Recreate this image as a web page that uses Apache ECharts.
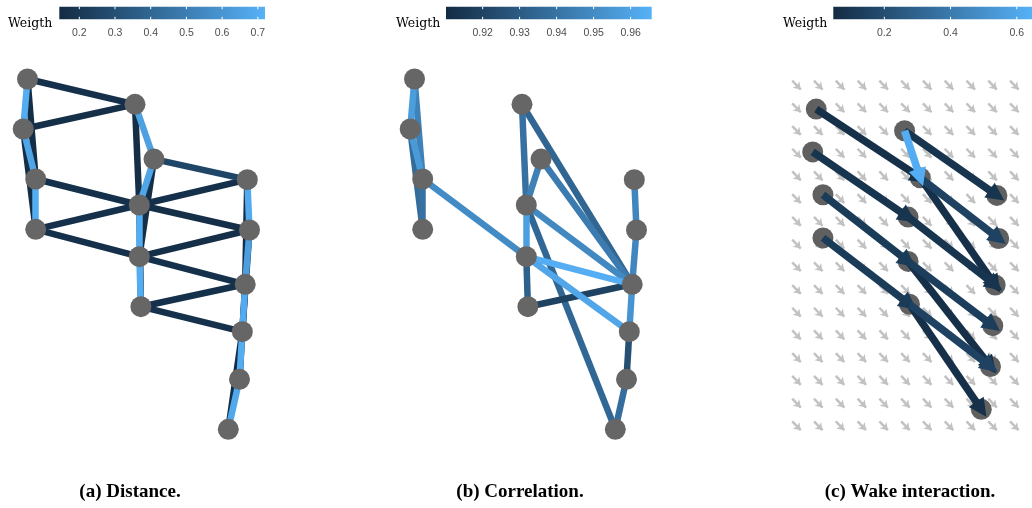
<!DOCTYPE html>
<html>
<head>
<meta charset="utf-8">
<script src="https://cdn.jsdelivr.net/npm/echarts@6/dist/echarts.min.js"></script>
<style>
  html, body { margin: 0; padding: 0; background: #ffffff; }
  #chart { width: 1032px; height: 508px; }
</style>
</head>
<body>
<div id="chart"></div>
<script>
// Turbine layout in metres (A = west column, B = middle, C = east)
const turbineIds = ['A1','A2','A3','A4','B1','B2','B3','B4','B5','C1','C2','C3','C4','C5','C6'];
const turbineX = [75, 32, 157, 157, 1150, 1340, 1193, 1193, 1209, 2273, 2295, 2252, 2223, 2195, 2083];
const turbineY = [3610, 3110, 2610, 2107, 3357, 2809, 2350, 1833, 1333, 2603, 2100, 1557, 1083, 607, 107];

// (a) distance graph
const distFrom   = [0, 1, 0, 1, 2, 3, 3, 4, 5, 6, 6, 6, 7, 7, 8, 8, 9, 10, 11, 12, 5, 0, 1, 2, 4, 5, 6, 7, 9, 10, 11, 12, 13];
const distTo     = [4, 4, 2, 3, 6, 6, 7, 6, 7, 8, 9, 10, 10, 11, 11, 12, 11, 12, 13, 14, 9, 1, 2, 3, 5, 6, 7, 8, 10, 11, 12, 13, 14];
const distWeight = [0.165, 0.16, 0.155, 0.155, 0.165, 0.165, 0.165, 0.155, 0.16, 0.155, 0.165, 0.16, 0.16, 0.165, 0.165, 0.17, 0.155, 0.155, 0.16, 0.155, 0.26,
                    0.70, 0.67, 0.70, 0.65, 0.67, 0.70, 0.70, 0.69, 0.64, 0.69, 0.70, 0.68];
const distRange = [0.144, 0.720];
const distTickLabels = ['0.2', '0.3', '0.4', '0.5', '0.6', '0.7'];

// (b) correlation graph
const corrFrom   = [6, 8, 4, 1, 2, 0, 0, 1, 2, 4, 5, 5, 6, 6, 7, 9, 10, 11, 12, 13, 7, 7];
const corrTo     = [14, 11, 11, 3, 3, 2, 1, 2, 7, 6, 6, 11, 7, 11, 8, 10, 11, 12, 13, 14, 11, 12];
const corrWeight = [0.935, 0.9196, 0.9346, 0.937, 0.939, 0.9462, 0.9574, 0.956, 0.950, 0.939, 0.9457, 0.9435, 0.9585, 0.949, 0.932,
                    0.948, 0.948, 0.9535, 0.925, 0.938, 0.9646, 0.961];
const corrRange = [0.9101, 0.9657];
const corrTickLabels = ['0.92', '0.93', '0.94', '0.95', '0.96'];

// (c) wake interaction graph (directed, upstream -> downstream)
const wakeFrom   = [0, 4, 5, 5, 1, 6, 2, 7, 7, 3, 8, 8, 4];
const wakeTo     = [5, 9, 11, 10, 6, 11, 7, 13, 12, 8, 14, 13, 5];
const wakeWeight = [0.07, 0.09, 0.07, 0.15, 0.09, 0.09, 0.12, 0.07, 0.13, 0.12, 0.07, 0.15, 0.63];
const wakeRange = [0.046, 0.646];
const wakeTickLabels = ['0.2', '0.4', '0.6'];

// Background wind field sample points (metres) and flow direction
const fieldX = [-165, 100, 365, 630, 895, 1160, 1425, 1690, 1955, 2220, 2485];
const fieldY = [3890, 3625, 3360, 3095, 2830, 2565, 2300, 2035, 1770, 1505, 1240, 975, 710, 445, 180, -85];
const windDir = [1, -1];

// Colour scale shared by all three panels
const LOW = [0x13, 0x2b, 0x43];
const HIGH = [0x56, 0xb1, 0xf7];
const toHex = c => '#' + c.map(v => Math.round(v).toString(16).padStart(2, '0')).join('');
function weightColor(w, range) {
  const t = Math.max(0, Math.min(1, (w - range[0]) / (range[1] - range[0])));
  return toHex(LOW.map((l, i) => l + (HIGH[i] - l) * t));
}

const pos = i => [turbineX[i], turbineY[i]];
function edgeData(from, to, weight, range) {
  return from.map((f, k) => ({
    coords: [pos(f), pos(to[k])],
    lineStyle: { color: weightColor(weight[k], range) }
  }));
}
const nodeData = turbineIds.map((id, i) => ({ name: id, value: pos(i) }));

const fieldData = [];
fieldY.forEach(y => fieldX.forEach(x => {
  const h = 52;
  fieldData.push({ coords: [[x - h * windDir[0], y - h * windDir[1]], [x + h * windDir[0], y + h * windDir[1]]] });
}));

function colorbarSeries(idx, range, labels) {
  const ticks = labels.map(Number);
  return {
    type: 'custom', xAxisIndex: idx, yAxisIndex: idx, silent: true,
    data: [[range[0], 0, range[1], 1]],
    renderItem(params, api) {
      const p0 = api.coord([range[0], 1]);
      const p1 = api.coord([range[1], 0]);
      const h = p1[1] - p0[1];
      const children = [{
        type: 'rect',
        shape: { x: p0[0], y: p0[1], width: p1[0] - p0[0], height: h },
        style: { fill: new echarts.graphic.LinearGradient(0, 0, 1, 0, [
          { offset: 0, color: toHex(LOW) }, { offset: 1, color: toHex(HIGH) }]) }
      }];
      ticks.forEach(v => {
        const x = api.coord([v, 0])[0];
        children.push({ type: 'line', shape: { x1: x, y1: p0[1], x2: x, y2: p0[1] + h / 5 }, style: { stroke: '#ffffff', lineWidth: 1 } });
        children.push({ type: 'line', shape: { x1: x, y1: p1[1] - h / 5, x2: x, y2: p1[1] }, style: { stroke: '#ffffff', lineWidth: 1 } });
      });
      return { type: 'group', children };
    }
  };
}

function legendAxis(gridIndex, range, labels) {
  const dec = (labels[0].split('.')[1] || '').length;
  return {
    type: 'value', gridIndex, min: range[0], max: range[1],
    axisLine: { show: false }, axisTick: { show: false }, splitLine: { show: false },
    axisLabel: {
      customValues: labels.map(Number),
      formatter: v => Number(v).toFixed(dec),
      color: '#4d4d4d', fontSize: 10.5, fontFamily: 'Liberation Sans', margin: 8
    }
  };
}
const hiddenAxis = (gridIndex, min, max) => ({ type: 'value', gridIndex, min, max, show: false, splitLine: { show: false } });

const chart = echarts.init(document.getElementById('chart'), null, { renderer: 'canvas' });
chart.setOption({
  backgroundColor: '#ffffff',
  animation: false,
  grid: [
    { left: 20, top: 60, width: 240, height: 380 },
    { left: 407, top: 60, width: 240, height: 380 },
    { left: 785.4, top: 58.5, width: 257.1, height: 385.7 },
    { left: 59.3, top: 6.7, width: 205.7, height: 12.6 },
    { left: 446, top: 6.7, width: 205.7, height: 12.6 },
    { left: 833.3, top: 6.7, width: 198.7, height: 12.6 }
  ],
  xAxis: [
    hiddenAxis(0, 0, 2400),
    hiddenAxis(1, 0, 2400),
    hiddenAxis(2, -300, 2700),
    legendAxis(3, distRange, distTickLabels),
    legendAxis(4, corrRange, corrTickLabels),
    legendAxis(5, wakeRange, wakeTickLabels)
  ],
  yAxis: [
    hiddenAxis(0, 0, 3800),
    hiddenAxis(1, 0, 3800),
    hiddenAxis(2, -300, 4200),
    hiddenAxis(3, 0, 1),
    hiddenAxis(4, 0, 1),
    hiddenAxis(5, 0, 1)
  ],
  graphic: [
    { type: 'text', x: 8, y: 24, style: { text: 'Weigth', font: '12.5px "DejaVu Serif"', fill: '#000', verticalAlign: 'middle' } },
    { type: 'text', x: 396, y: 24, style: { text: 'Weigth', font: '12.5px "DejaVu Serif"', fill: '#000', verticalAlign: 'middle' } },
    { type: 'text', x: 783, y: 24, style: { text: 'Weigth', font: '12.5px "DejaVu Serif"', fill: '#000', verticalAlign: 'middle' } },
    { type: 'text', x: 130, y: 492, style: { text: '(a) Distance.', font: 'bold 19px "Liberation Serif"', fill: '#000', align: 'center', verticalAlign: 'middle' } },
    { type: 'text', x: 520, y: 492, style: { text: '(b) Correlation.', font: 'bold 19px "Liberation Serif"', fill: '#000', align: 'center', verticalAlign: 'middle' } },
    { type: 'text', x: 910, y: 492, style: { text: '(c) Wake interaction.', font: 'bold 19px "Liberation Serif"', fill: '#000', align: 'center', verticalAlign: 'middle' } }
  ],
  series: [
    // (a)
    { type: 'lines', coordinateSystem: 'cartesian2d', xAxisIndex: 0, yAxisIndex: 0, silent: true, z: 2,
      lineStyle: { width: 6.5, opacity: 1 }, data: edgeData(distFrom, distTo, distWeight, distRange) },
    { type: 'scatter', xAxisIndex: 0, yAxisIndex: 0, silent: true, symbolSize: 21, z: 4,
      itemStyle: { color: '#666666', opacity: 1 }, data: nodeData },
    // (b)
    { type: 'lines', coordinateSystem: 'cartesian2d', xAxisIndex: 1, yAxisIndex: 1, silent: true, z: 2,
      lineStyle: { width: 6.5, opacity: 1 }, data: edgeData(corrFrom, corrTo, corrWeight, corrRange) },
    { type: 'scatter', xAxisIndex: 1, yAxisIndex: 1, silent: true, symbolSize: 21, z: 4,
      itemStyle: { color: '#666666', opacity: 1 }, data: nodeData },
    // (c): wind field, turbines, then wake arrows on top
    { type: 'lines', coordinateSystem: 'cartesian2d', xAxisIndex: 2, yAxisIndex: 2, silent: true, z: 1,
      symbol: ['none', 'arrow'], symbolSize: 7,
      lineStyle: { width: 2.5, color: '#c2c2c2', opacity: 1 }, data: fieldData },
    { type: 'scatter', xAxisIndex: 2, yAxisIndex: 2, silent: true, symbolSize: 21, z: 2,
      itemStyle: { color: '#606060', opacity: 1 }, data: nodeData },
    { type: 'lines', coordinateSystem: 'cartesian2d', xAxisIndex: 2, yAxisIndex: 2, silent: true, z: 5,
      symbol: ['none', 'triangle'], symbolSize: 18,
      lineStyle: { width: 7.5, opacity: 1 }, data: edgeData(wakeFrom, wakeTo, wakeWeight, wakeRange) },
    // colour bars
    colorbarSeries(3, distRange, distTickLabels),
    colorbarSeries(4, corrRange, corrTickLabels),
    colorbarSeries(5, wakeRange, wakeTickLabels)
  ]
});
</script>
</body>
</html>
